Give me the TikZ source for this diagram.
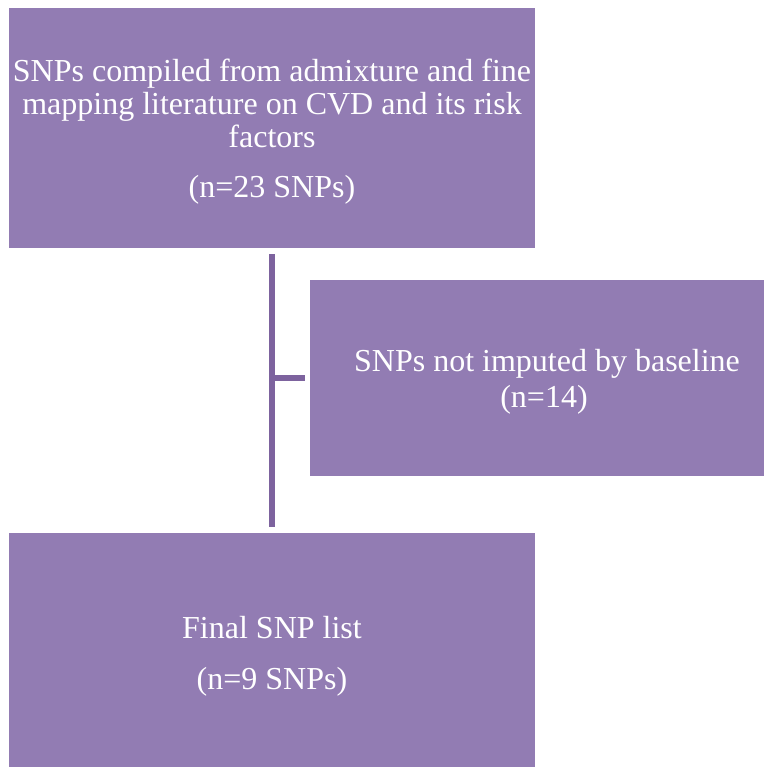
\documentclass[tikz,border=0pt]{standalone}
\usepackage{fontspec}
\setmainfont{Liberation Serif}
\definecolor{boxfill}{RGB}{146,124,179}
\definecolor{linecol}{RGB}{125,99,158}
\tikzset{
  box/.style={fill=boxfill, draw=none, inner sep=0pt, anchor=north west},
  txt/.style={text=white, font=\fontsize{32}{33}\selectfont, anchor=base, inner sep=0pt},
  conn/.style={draw=linecol, line width=6pt}
}
\begin{document}
\begin{tikzpicture}[x=1pt,y=-1pt]
\useasboundingbox (0,0) rectangle (764,767);
\node[box, minimum width=526pt, minimum height=240pt] (top) at (9,8) {};
\node[box, minimum width=454pt, minimum height=196pt] (mid) at (310,280) {};
\node[box, minimum width=526pt, minimum height=234pt] (bot) at (9,533) {};
\node[txt] (t1) at (272,82) {SNPs compiled from admixture and fine};
\node[txt] (t2) at (272,115) {mapping literature on CVD and its risk};
\node[txt] (t3) at (272,148) {factors};
\node[txt] (t4) at (272,197) {(n=23 SNPs)};
\node[txt] (m1) at (547,371) {SNPs not imputed by baseline};
\node[txt] (m2) at (544,407) {(n=14)};
\node[txt] (b1) at (272,638) {Final SNP list};
\node[txt] (b2) at (272,689) {(n=9 SNPs)};
\coordinate (ltop) at ([yshift=-6pt]top.south);
\coordinate (lbot) at ([yshift=6pt]bot.north);
\coordinate (junc) at (ltop |- mid.west);
\coordinate (tickend) at ([xshift=-5pt]mid.west);
\draw[conn] (ltop) -- (lbot);
\draw[conn] (junc) -- (tickend);
\end{tikzpicture}
\end{document}
